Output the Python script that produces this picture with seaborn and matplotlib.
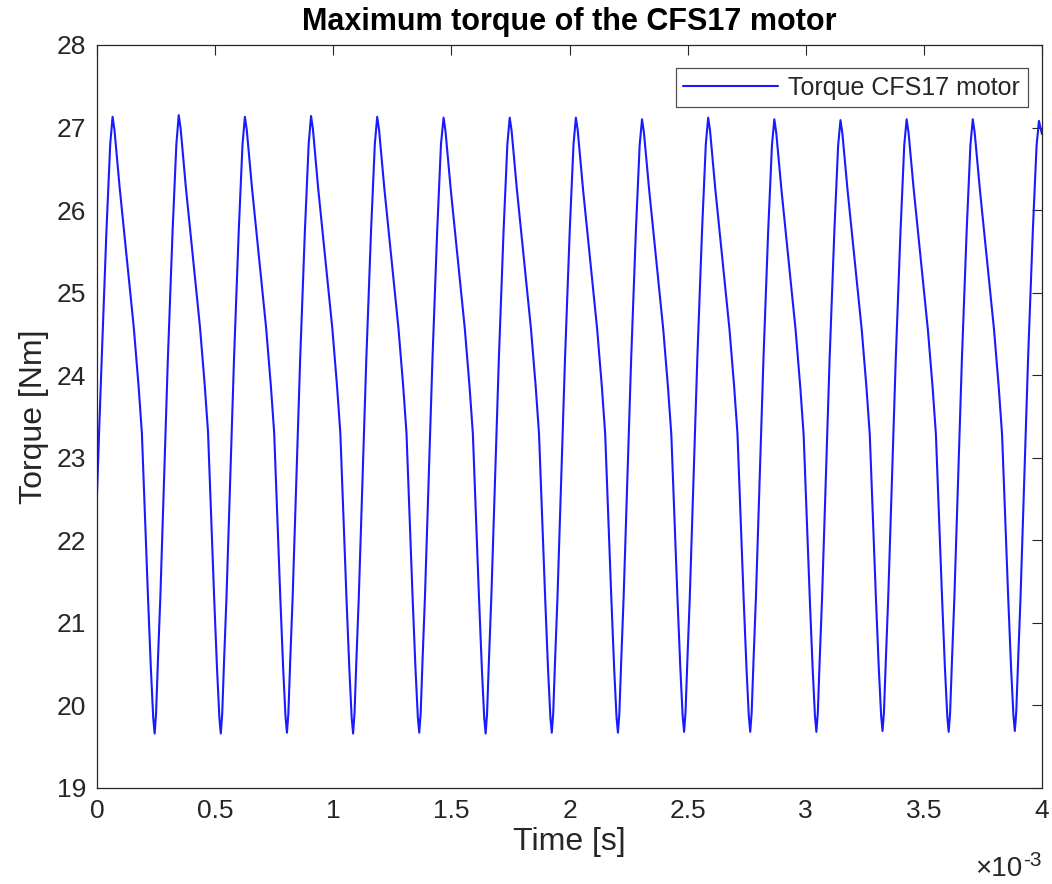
import numpy as np
import pandas as pd
import matplotlib
matplotlib.use("Agg")
import matplotlib.pyplot as plt
import seaborn as sns

# ---- data (time in ms, torque in Nm) ----
time_ms = [
    0.000, 0.010, 0.020, 0.040, 0.056,
    0.066, 0.074, 0.096, 0.126, 0.156, 0.176, 0.190, 0.203, 0.216, 0.228, 0.238, 0.244, 0.250, 0.258, 0.268, 0.284, 0.300, 0.320, 0.336,
    0.346, 0.354, 0.376, 0.406, 0.436, 0.456, 0.470, 0.483, 0.496, 0.508, 0.518, 0.524, 0.530, 0.538, 0.548, 0.564, 0.580, 0.600, 0.616,
    0.626, 0.634, 0.656, 0.686, 0.716, 0.736, 0.750, 0.763, 0.776, 0.788, 0.798, 0.804, 0.810, 0.818, 0.828, 0.844, 0.860, 0.880, 0.896,
    0.906, 0.914, 0.936, 0.966, 0.996, 1.016, 1.030, 1.043, 1.056, 1.068, 1.078, 1.084, 1.090, 1.098, 1.108, 1.124, 1.140, 1.160, 1.176,
    1.186, 1.194, 1.216, 1.246, 1.276, 1.296, 1.310, 1.323, 1.336, 1.348, 1.358, 1.364, 1.370, 1.378, 1.388, 1.404, 1.420, 1.440, 1.456,
    1.467, 1.475, 1.497, 1.527, 1.557, 1.577, 1.591, 1.604, 1.617, 1.629, 1.639, 1.645, 1.651, 1.659, 1.669, 1.685, 1.701, 1.721, 1.737,
    1.747, 1.755, 1.777, 1.807, 1.837, 1.857, 1.871, 1.884, 1.897, 1.909, 1.919, 1.925, 1.931, 1.939, 1.949, 1.965, 1.981, 2.001, 2.017,
    2.027, 2.035, 2.057, 2.087, 2.117, 2.137, 2.151, 2.164, 2.177, 2.189, 2.199, 2.205, 2.211, 2.219, 2.229, 2.245, 2.261, 2.281, 2.297,
    2.307, 2.315, 2.337, 2.367, 2.397, 2.417, 2.431, 2.444, 2.457, 2.469, 2.479, 2.485, 2.491, 2.499, 2.509, 2.525, 2.541, 2.561, 2.577,
    2.587, 2.595, 2.617, 2.647, 2.677, 2.697, 2.711, 2.724, 2.737, 2.749, 2.759, 2.765, 2.771, 2.779, 2.789, 2.805, 2.821, 2.841, 2.857,
    2.867, 2.875, 2.897, 2.927, 2.957, 2.977, 2.991, 3.004, 3.017, 3.029, 3.039, 3.045, 3.051, 3.059, 3.069, 3.085, 3.101, 3.121, 3.137,
    3.147, 3.155, 3.177, 3.207, 3.237, 3.257, 3.271, 3.284, 3.297, 3.309, 3.319, 3.325, 3.331, 3.339, 3.349, 3.365, 3.381, 3.401, 3.417,
    3.427, 3.435, 3.457, 3.487, 3.517, 3.537, 3.551, 3.564, 3.577, 3.589, 3.599, 3.605, 3.611, 3.619, 3.629, 3.645, 3.661, 3.681, 3.697,
    3.707, 3.715, 3.737, 3.767, 3.797, 3.817, 3.831, 3.844, 3.857, 3.869, 3.879, 3.885, 3.891, 3.899, 3.909, 3.925, 3.941, 3.961, 3.977,
    3.987, 4.000,
]

torque_nm = [
    22.55, 23.40, 24.20, 25.75, 26.80,
    27.13, 26.97, 26.27, 25.42, 24.57, 23.87, 23.30, 22.30, 21.30, 20.45, 19.85, 19.66, 19.90, 20.55, 21.30, 22.75, 24.20, 25.75, 26.80,
    27.15, 26.99, 26.28, 25.43, 24.58, 23.88, 23.31, 22.30, 21.30, 20.45, 19.85, 19.66, 19.90, 20.55, 21.30, 22.75, 24.20, 25.75, 26.80,
    27.13, 26.97, 26.27, 25.42, 24.57, 23.87, 23.30, 22.30, 21.30, 20.45, 19.86, 19.67, 19.90, 20.55, 21.30, 22.75, 24.20, 25.75, 26.80,
    27.14, 26.98, 26.27, 25.42, 24.57, 23.87, 23.30, 22.30, 21.30, 20.45, 19.85, 19.66, 19.90, 20.55, 21.30, 22.75, 24.20, 25.75, 26.80,
    27.13, 26.97, 26.27, 25.42, 24.57, 23.87, 23.30, 22.30, 21.30, 20.45, 19.86, 19.67, 19.90, 20.55, 21.30, 22.75, 24.20, 25.75, 26.80,
    27.12, 26.96, 26.26, 25.41, 24.56, 23.86, 23.29, 22.30, 21.30, 20.45, 19.85, 19.66, 19.90, 20.55, 21.30, 22.75, 24.20, 25.75, 26.80,
    27.12, 26.96, 26.26, 25.41, 24.56, 23.86, 23.29, 22.30, 21.30, 20.45, 19.86, 19.67, 19.90, 20.55, 21.30, 22.75, 24.20, 25.75, 26.80,
    27.12, 26.96, 26.26, 25.41, 24.56, 23.86, 23.29, 22.30, 21.30, 20.45, 19.86, 19.67, 19.90, 20.55, 21.30, 22.75, 24.20, 25.75, 26.79,
    27.10, 26.94, 26.25, 25.40, 24.55, 23.85, 23.28, 22.30, 21.30, 20.46, 19.87, 19.68, 19.91, 20.55, 21.30, 22.75, 24.20, 25.75, 26.80,
    27.12, 26.96, 26.26, 25.41, 24.56, 23.86, 23.29, 22.30, 21.30, 20.46, 19.87, 19.68, 19.91, 20.55, 21.30, 22.75, 24.20, 25.75, 26.79,
    27.10, 26.94, 26.25, 25.40, 24.55, 23.85, 23.28, 22.30, 21.30, 20.46, 19.87, 19.68, 19.91, 20.55, 21.30, 22.75, 24.20, 25.74, 26.78,
    27.09, 26.93, 26.24, 25.40, 24.55, 23.85, 23.28, 22.30, 21.30, 20.46, 19.88, 19.69, 19.92, 20.55, 21.30, 22.75, 24.20, 25.74, 26.79,
    27.10, 26.94, 26.25, 25.40, 24.55, 23.85, 23.28, 22.30, 21.30, 20.46, 19.87, 19.68, 19.91, 20.55, 21.30, 22.75, 24.20, 25.74, 26.79,
    27.10, 26.94, 26.25, 25.40, 24.55, 23.85, 23.28, 22.30, 21.30, 20.46, 19.88, 19.69, 19.92, 20.55, 21.30, 22.75, 24.20, 25.74, 26.78,
    27.08, 26.92,
]

x_ticks_ms = [0, 0.5, 1, 1.5, 2, 2.5, 3, 3.5, 4]
x_tick_labels = ["0", "0.5", "1", "1.5", "2", "2.5", "3", "3.5", "4"]
y_ticks = [19, 20, 21, 22, 23, 24, 25, 26, 27, 28]

series_label = "Torque CFS17 motor"
title = "Maximum torque of the CFS17 motor"
x_label = "Time [s]"
y_label = "Torque [Nm]"

# ---- plotting ----
sns.set_style("white")
plt.rcParams["font.family"] = ["Liberation Sans", "DejaVu Sans"]

fig = plt.figure(figsize=(10.52, 8.84), dpi=100)
ax = fig.add_axes([0.0922, 0.1086, 0.8983, 0.8405])

df = pd.DataFrame({"t": np.array(time_ms) * 1e-3, "T": torque_nm})
sns.lineplot(data=df, x="t", y="T", ax=ax, color="#1a1aff", linewidth=1.5,
             estimator=None, sort=False, label=series_label)

axis_col = "#262626"
ax.set_xlim(0, 4e-3)
ax.set_ylim(19, 28)
ax.set_xticks(np.array(x_ticks_ms) * 1e-3)
ax.set_xticklabels(x_tick_labels)
ax.set_yticks(y_ticks)
ax.tick_params(direction="in", top=True, right=True, length=7, width=0.8,
               labelsize=19, colors=axis_col, pad=8)
for s in ax.spines.values():
    s.set_color(axis_col)
    s.set_linewidth(0.9)
    s.set_visible(True)

ax.set_xlabel(x_label, fontsize=23, color=axis_col, labelpad=3)
ax.set_ylabel(y_label, fontsize=23, color=axis_col, labelpad=5)
ax.set_title(title, fontsize=22, fontweight="bold", color="black", pad=11)

# MATLAB-style exponent label below the right end of the x axis
ax.text(0.979, -0.118, "\u00d710", transform=ax.transAxes,
        ha="right", va="baseline", fontsize=20, color=axis_col)
ax.text(0.980, -0.105, "-3", transform=ax.transAxes,
        ha="left", va="baseline", fontsize=15, color=axis_col)

leg = ax.legend(loc="upper right", fontsize=18, frameon=True, fancybox=False,
                handlelength=3.8, handletextpad=0.4, borderpad=0.3,
                borderaxespad=0.0, bbox_to_anchor=(0.985, 0.969))
leg.get_frame().set_edgecolor(axis_col)
leg.get_frame().set_linewidth(0.9)

fig.savefig("out.png", dpi=100, facecolor="white")
